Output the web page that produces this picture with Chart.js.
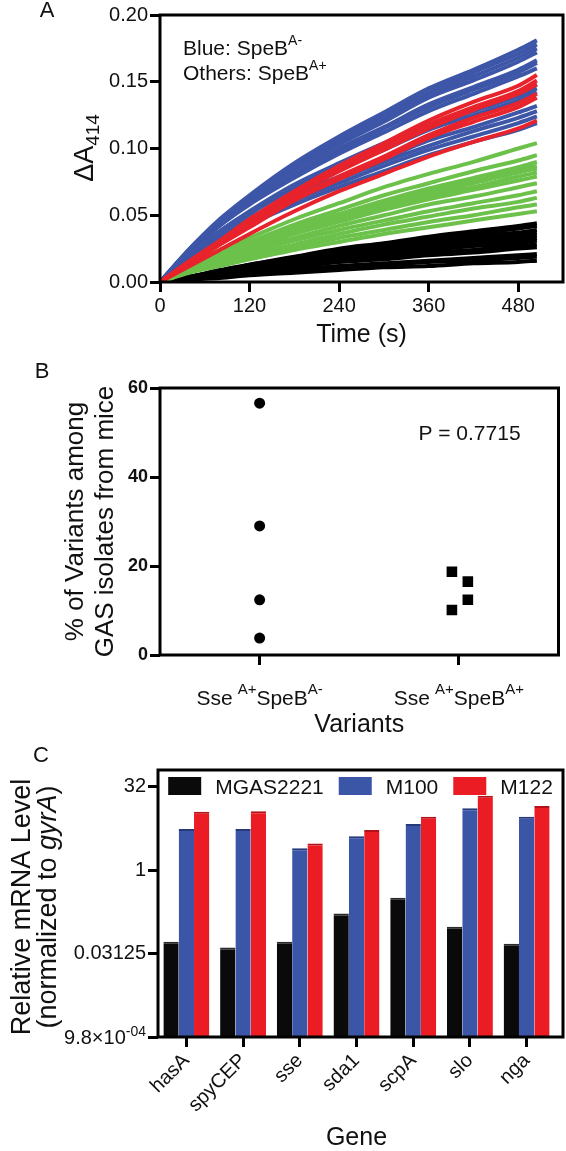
<!DOCTYPE html>
<html>
<head>
<meta charset="utf-8">
<script src="https://cdn.jsdelivr.net/npm/chart.js@4.4.0/dist/chart.umd.min.js"></script>
<style>
  html, body { margin: 0; padding: 0; background: #fff; }
  #wrap { position: relative; width: 566px; height: 1151px; }
  canvas { position: absolute; left: 0; }
</style>
</head>
<body>
<div id="wrap">
  <canvas id="chartA" width="566" height="355" style="top:0px"></canvas>
  <canvas id="chartB" width="566" height="383" style="top:355px"></canvas>
  <canvas id="chartC" width="566" height="413" style="top:738px"></canvas>
</div>
<script>
const FONT = '"Liberation Sans", Arial, Helvetica, sans-serif';
const INK = '#111';

// ---- Panel A: ΔA414 over time ----
const timePoints = [0, 40, 80, 120, 180, 240, 300, 360, 420, 480, 505];
const timeTicks = [0, 120, 240, 360, 480];

// SpeB A- isolates (blue)
const blueCurves = [
  [0, .025, .047, .065, .089, .109, .127, .145, .159, .174, .181],
  [0, .025, .046, .064, .087, .107, .125, .142, .157, .171, .178],
  [0, .024, .045, .063, .086, .105, .122, .140, .154, .168, .175],
  [0, .024, .045, .062, .084, .103, .120, .138, .151, .165, .172],
  [0, .023, .043, .060, .081, .100, .116, .133, .146, .159, .166],
  [0, .023, .043, .059, .080, .098, .115, .131, .144, .157, .164],
  [0, .022, .042, .058, .078, .096, .112, .128, .141, .154, .160],
  [0, .021, .038, .053, .073, .089, .104, .118, .130, .142, .148],
  [0, .020, .038, .052, .071, .087, .102, .116, .128, .139, .145],
  [0, .020, .037, .051, .070, .085, .099, .114, .125, .136, .142],
  [0, .018, .034, .048, .065, .079, .092, .106, .116, .127, .132],
  [0, .018, .033, .046, .063, .077, .090, .102, .113, .123, .128],
  [0, .017, .032, .045, .061, .074, .087, .099, .109, .119, .124],
  [0, .017, .031, .043, .058, .071, .083, .095, .105, .114, .119]
];
// SpeB A+ isolates, red group
const redCurves = [
  [0, .016, .031, .047, .068, .087, .104, .121, .135, .147, .155],
  [0, .015, .030, .045, .066, .085, .101, .118, .131, .143, .151],
  [0, .015, .030, .044, .065, .083, .099, .115, .129, .141, .148],
  [0, .014, .028, .042, .062, .079, .094, .110, .123, .134, .141],
  [0, .014, .028, .041, .061, .077, .092, .108, .120, .131, .138],
  [0, .012, .024, .036, .053, .068, .081, .094, .105, .115, .121]
];
// SpeB A+ isolates, green group
const greenCurves = [
  [0, .014, .024, .033, .047, .059, .071, .081, .090, .100, .104],
  [0, .012, .022, .030, .043, .054, .065, .074, .083, .091, .095],
  [0, .012, .021, .029, .041, .051, .061, .070, .078, .086, .090],
  [0, .011, .020, .028, .039, .050, .059, .068, .076, .084, .087],
  [0, .011, .020, .027, .038, .048, .058, .066, .074, .082, .085],
  [0, .011, .019, .026, .037, .047, .056, .064, .071, .079, .082],
  [0, .010, .018, .025, .036, .045, .054, .062, .069, .076, .079],
  [0, .010, .017, .024, .033, .042, .050, .058, .064, .071, .074],
  [0, .009, .016, .022, .031, .039, .046, .053, .059, .065, .068],
  [0, .008, .014, .020, .028, .036, .043, .049, .055, .060, .063],
  [0, .008, .013, .019, .026, .033, .039, .045, .050, .056, .058],
  [0, .007, .012, .017, .024, .030, .036, .041, .046, .051, .053]
];
// SpeB A+ isolates, black group
const blackCurves = [
  [0, .004, .009, .013, .019, .025, .029, .034, .038, .042, .044],
  [0, .004, .008, .013, .018, .024, .028, .032, .036, .040, .042],
  [0, .004, .008, .012, .017, .022, .026, .030, .034, .037, .039],
  [0, .004, .007, .011, .016, .021, .025, .028, .032, .035, .037],
  [0, .004, .007, .011, .015, .020, .023, .027, .030, .033, .035],
  [0, .003, .007, .010, .015, .019, .022, .025, .028, .031, .033],
  [0, .003, .006, .009, .014, .018, .021, .024, .027, .029, .031],
  [0, .003, .006, .008, .012, .016, .019, .022, .024, .027, .028],
  [0, .003, .005, .008, .011, .015, .017, .020, .022, .025, .026],
  [0, .002, .004, .006, .009, .012, .014, .016, .018, .020, .021],
  [0, .002, .004, .006, .008, .011, .013, .015, .016, .018, .019],
  [0, .002, .003, .005, .007, .009, .011, .012, .014, .015, .016]
];

// ---- Panel B: % of variants among GAS isolates from mice ----
const variantPos = [1, 3];
const variantLabels = [['Sse', 'A+', 'SpeB', 'A-'], ['Sse', 'A+', 'SpeB', 'A+']];
const speBMinusX = [1, 1, 1, 1];
const speBMinus = [56.6, 29.0, 12.4, 3.8];
const speBPlusX = [2.93, 3.09, 3.09, 2.93];
const speBPlus = [18.7, 16.5, 12.4, 10.1];
const pValueText = 'P = 0.7715';

// ---- Panel C: relative mRNA level ----
const genes = ['hasA', 'spyCEP', 'sse', 'sda1', 'scpA', 'slo', 'nga'];
const mgas2221 = [0.051, 0.040, 0.051, 0.165, 0.316, 0.095, 0.047];
const m100 = [5.5, 5.5, 2.47, 4.1, 6.8, 13, 9.2];
const m122 = [11.3, 11.5, 3.03, 5.28, 9.2, 22, 14.3];
const cTickValues = [0.0009765625, 0.03125, 1, 32];
const cTickLabels = ['', '0.03125', '1', '32']; // lowest label drawn separately (superscript)
const cMinLabel = ['9.8×10', '-04'];

// small helpers
function fontStr(size, weight, style) {
  return (style || 'normal') + ' ' + (weight || 'normal') + ' ' + size + 'px ' + FONT;
}

// draws a row of text runs (used for sub/superscripts and italics)
function drawRuns(ctx, runs, x, y, align) {
  let total = 0;
  runs.forEach(r => {
    ctx.font = fontStr(r.size, r.weight, r.style);
    r.w = ctx.measureText(r.text).width;
    total += r.w + (r.gap || 0);
  });
  let cx = align === 'center' ? x - total / 2 : (align === 'right' ? x - total : x);
  ctx.textAlign = 'left';
  ctx.textBaseline = 'alphabetic';
  runs.forEach(r => {
    ctx.font = fontStr(r.size, r.weight, r.style);
    ctx.fillText(r.text, cx, y + (r.dy || 0));
    cx += r.w + (r.gap || 0);
  });
}

function drawRotated(ctx, runs, x, y) {
  ctx.save();
  ctx.translate(x, y);
  ctx.rotate(-Math.PI / 2);
  drawRuns(ctx, runs, 0, 0, 'center');
  ctx.restore();
}

function drawBox(ctx, a, extraRight) {
  ctx.save();
  ctx.strokeStyle = '#000';
  ctx.lineWidth = 3;
  ctx.strokeRect(a.left, a.top, a.right - a.left + (extraRight || 0), a.bottom - a.top);
  ctx.restore();
}

function tickGrid() {
  return { display: true, drawOnChartArea: false, drawTicks: true, tickLength: 10, tickWidth: 3, tickColor: '#000', color: '#000' };
}

function curveData(curve) {
  return timePoints.map((t, i) => ({ x: t, y: curve[i] }));
}

function lineSet(curves, color) {
  return curves.map(c => ({
    data: curveData(c),
    borderColor: color,
    borderWidth: 4,
    pointRadius: 0,
    cubicInterpolationMode: 'monotone',
    fill: false
  }));
}

// ---------- Panel A ----------
const decorA = {
  id: 'decorA',
  afterDraw(chart) {
    const { ctx, chartArea: a } = chart;
    drawBox(ctx, a);
    ctx.fillStyle = INK;
    drawRuns(ctx, [{ text: 'A', size: 22 }], 47, 17, 'center');
    drawRotated(ctx, [{ text: 'ΔA', size: 27 }, { text: '414', size: 19, dy: 6 }], 93, 148);
    drawRuns(ctx, [{ text: 'Blue: SpeB', size: 21 }, { text: 'A-', size: 14, dy: -10 }], a.left + 23, a.top + 40, 'left');
    drawRuns(ctx, [{ text: 'Others: SpeB', size: 21 }, { text: 'A+', size: 14, dy: -10 }], a.left + 23, a.top + 65, 'left');
  }
};

new Chart(document.getElementById('chartA'), {
  type: 'line',
  data: {
    datasets: [].concat(
      lineSet(redCurves, '#e8232b'),
      lineSet(blueCurves, '#3d56a8'),
      lineSet(greenCurves, '#6cc14b'),
      lineSet(blackCurves, '#000000')
    )
  },
  options: {
    responsive: false,
    animation: false,
    layout: { padding: { left: 0, top: 15, right: 3, bottom: 0 } },
    plugins: { legend: { display: false }, tooltip: { enabled: false } },
    scales: {
      x: {
        type: 'linear', min: 0, max: 540,
        afterBuildTicks: s => { s.ticks = timeTicks.map(v => ({ value: v })); },
        afterFit: s => { s.height = 73; },
        grid: tickGrid(),
        border: { display: false },
        ticks: { color: INK, font: { family: FONT, size: 20 }, padding: 2, maxRotation: 0 },
        title: { display: true, text: 'Time (s)', color: INK, font: { family: FONT, size: 25, lineHeight: 1.2 }, padding: { top: 0, bottom: 5 } }
      },
      y: {
        min: 0, max: 0.2,
        afterFit: s => { s.width = 160; },
        grid: tickGrid(),
        border: { display: false },
        ticks: { stepSize: 0.05, color: INK, font: { family: FONT, size: 20 }, padding: 2, callback: v => v.toFixed(2) }
      }
    }
  },
  plugins: [decorA]
});

// ---------- Panel B ----------
const decorB = {
  id: 'decorB',
  afterDraw(chart) {
    const { ctx, chartArea: a } = chart;
    const xs = chart.scales.x;
    drawBox(ctx, a);
    ctx.fillStyle = INK;
    drawRuns(ctx, [{ text: 'B', size: 22 }], 42, 23, 'center');
    drawRuns(ctx, [{ text: pValueText, size: 21 }], a.right - 89, a.top + 52, 'center');
    variantPos.forEach((v, i) => {
      const p = variantLabels[i];
      drawRuns(ctx, [
        { text: p[0], size: 21, gap: 5 },
        { text: p[1], size: 15, dy: -11 },
        { text: p[2], size: 21 },
        { text: p[3], size: 15, dy: -11 }
      ], xs.getPixelForValue(v), a.bottom + 50, 'center');
    });
  }
};

new Chart(document.getElementById('chartB'), {
  type: 'scatter',
  data: {
    datasets: [
      {
        data: speBMinus.map((y, i) => ({ x: speBMinusX[i], y: y })),
        pointStyle: 'circle', pointRadius: 5.5, backgroundColor: '#000', borderColor: '#000', borderWidth: 0
      },
      {
        data: speBPlus.map((y, i) => ({ x: speBPlusX[i], y: y })),
        pointStyle: 'rect', pointRadius: 7.5, backgroundColor: '#000', borderColor: '#000', borderWidth: 0
      }
    ]
  },
  options: {
    responsive: false,
    animation: false,
    layout: { padding: { left: 0, top: 33, right: 3, bottom: 0 } },
    plugins: { legend: { display: false }, tooltip: { enabled: false } },
    scales: {
      x: {
        type: 'linear', min: 0, max: 4,
        afterBuildTicks: s => { s.ticks = variantPos.map(v => ({ value: v })); },
        afterFit: s => { s.height = 83; },
        grid: tickGrid(),
        border: { display: false },
        ticks: { callback: () => '', padding: 0 },
        title: { display: true, text: 'Variants', color: INK, font: { family: FONT, size: 25, lineHeight: 1 }, padding: { top: 0, bottom: 0 } }
      },
      y: {
        min: 0, max: 60,
        afterFit: s => { s.width = 160; },
        grid: tickGrid(),
        border: { display: false },
        ticks: { stepSize: 20, color: INK, font: { family: FONT, size: 18, weight: 'bold' }, padding: 2 },
        title: {
          display: true, text: ['% of Variants among', 'GAS isolates from mice'], color: INK,
          font: { family: FONT, size: 26, lineHeight: 1.15 }, padding: { top: 61, bottom: 0 }
        }
      }
    }
  },
  plugins: [decorB]
});

// ---------- Panel C ----------
const decorC = {
  id: 'decorC',
  afterDraw(chart) {
    const { ctx, chartArea: a } = chart;
    const ys = chart.scales.y;
    drawBox(ctx, a, 8);
    ctx.fillStyle = INK;
    drawRuns(ctx, [{ text: 'C', size: 22 }], 41, 24, 'center');
    drawRotated(ctx, [{ text: 'Relative mRNA Level', size: 27 }], 30, 169);
    drawRotated(ctx, [{ text: '(normalized to ', size: 27 }, { text: 'gyrA', size: 27, style: 'italic' }, { text: ')', size: 27 }], 56, 169);

    // lowest y tick label with its superscript exponent
    drawRuns(ctx, [{ text: cMinLabel[0], size: 20 }, { text: cMinLabel[1], size: 14, dy: -8 }],
      a.left - 12, ys.getPixelForValue(cTickValues[0]) + 7, 'right');

    // legend inside the plot box
    const sets = chart.data.datasets;
    ctx.font = fontStr(21);
    const boxW = 33, boxH = 18, gapText = 14, gapItem = 15;
    const widths = sets.map(d => boxW + gapText + ctx.measureText(d.label).width);
    const total = widths.reduce((s, w) => s + w, 0) + gapItem * (sets.length - 1);
    let x = (a.left + a.right + 8) / 2 - total / 2;
    const top = a.top + 7;
    sets.forEach((d, i) => {
      ctx.fillStyle = d.backgroundColor;
      ctx.fillRect(x, top, boxW, boxH);
      ctx.fillStyle = INK;
      ctx.font = fontStr(21);
      ctx.textAlign = 'left';
      ctx.textBaseline = 'alphabetic';
      ctx.fillText(d.label, x + boxW + gapText, top + boxH / 2 + 7.5);
      x += widths[i] + gapItem;
    });
  }
};

const capWidth = { top: 2, left: 0, right: 0, bottom: 0 };

new Chart(document.getElementById('chartC'), {
  type: 'bar',
  data: {
    labels: genes,
    datasets: [
      { label: 'MGAS2221', data: mgas2221, backgroundColor: '#0a0a0a', borderColor: '#2a2a2a', borderWidth: capWidth },
      { label: 'M100', data: m100, backgroundColor: '#3b56a6', borderColor: '#26397a', borderWidth: capWidth },
      { label: 'M122', data: m122, backgroundColor: '#ec1c24', borderColor: '#b3121a', borderWidth: capWidth }
    ]
  },
  options: {
    responsive: false,
    animation: false,
    layout: { padding: { left: 0, top: 32, right: 11, bottom: 0 } },
    datasets: { bar: { categoryPercentage: 0.81, barPercentage: 1.0, borderSkipped: 'start' } },
    plugins: { legend: { display: false }, tooltip: { enabled: false } },
    scales: {
      x: {
        afterFit: s => { s.height = 114; },
        grid: Object.assign(tickGrid(), { offset: false }),
        border: { display: false },
        ticks: { color: INK, font: { family: FONT, size: 20 }, padding: 2, minRotation: 45, maxRotation: 45, autoSkip: false },
        title: { display: true, text: 'Gene', color: INK, font: { family: FONT, size: 25, lineHeight: 1 }, padding: { top: 0, bottom: 0 } }
      },
      y: {
        type: 'logarithmic',
        min: cTickValues[0], max: 64,
        afterBuildTicks: s => { s.ticks = cTickValues.map(v => ({ value: v })); },
        afterFit: s => { s.width = 158; },
        grid: tickGrid(),
        border: { display: false },
        ticks: {
          color: INK, font: { family: FONT, size: 20 }, padding: 2,
          callback: v => cTickLabels[cTickValues.indexOf(v)]
        }
      }
    }
  },
  plugins: [decorC]
});
</script>
</body>
</html>
